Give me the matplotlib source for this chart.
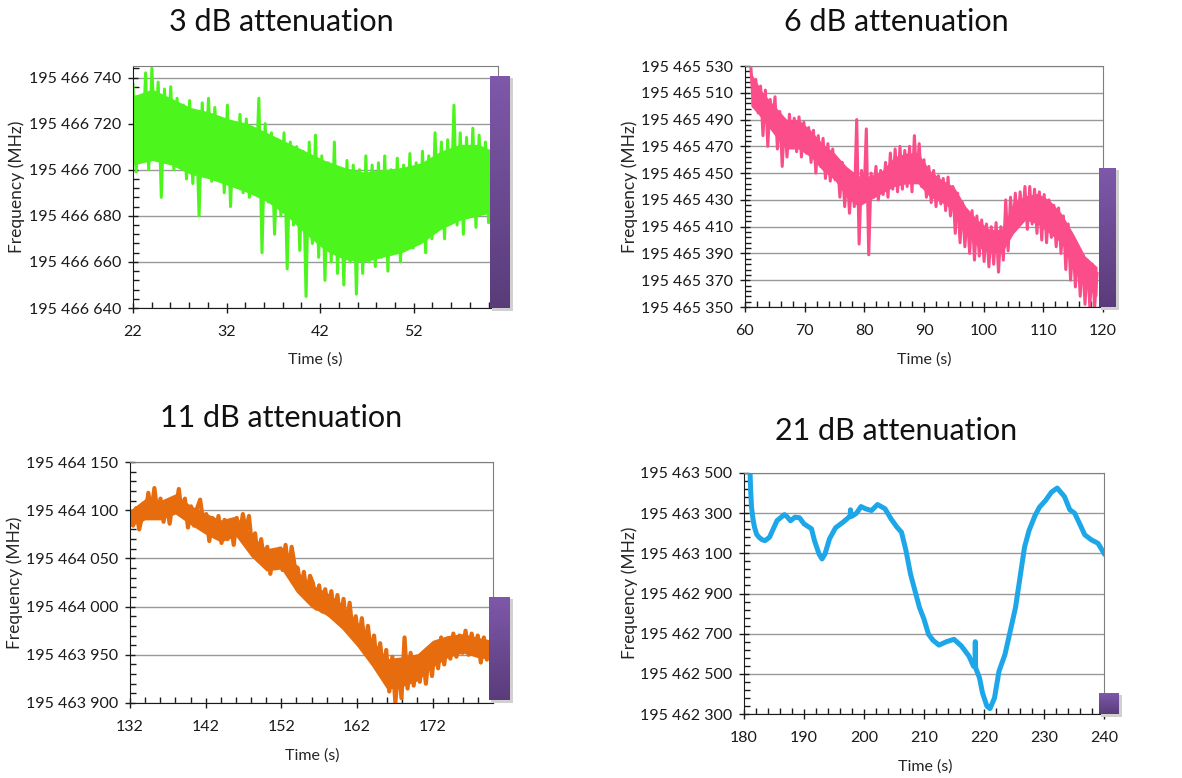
import numpy as np
import matplotlib
matplotlib.use("Agg")
import matplotlib.pyplot as plt
from matplotlib.ticker import MultipleLocator, FuncFormatter
from matplotlib.colors import LinearSegmentedColormap

plt.rcParams["font.family"] = ["Lato", "DejaVu Sans"]

W, H = 1182, 778

# 3 dB attenuation: readings in MHz above 195 466 000, evenly sampled 22 s .. 61 s
base_3db = 195466000
span_3db = (22, 61)
freq_3db = [
    737, 699, 730, 705, 742, 700,
    744, 712, 738, 688, 735, 708,
    736, 700, 731, 707, 728, 696,
    730, 694, 725, 680, 729, 700,
    731, 695, 727, 698, 722, 690,
    728, 684, 720, 694, 724, 690,
    722, 688, 718, 693, 731, 664,
    720, 686, 716, 672, 713, 680,
    716, 657, 712, 676, 710, 665,
    708, 645, 712, 668, 715, 662,
    706, 652, 703, 660, 712, 655,
    700, 650, 704, 660, 702, 646,
    700, 655, 706, 660, 702, 658,
    703, 662, 706, 656, 700, 664,
    705, 660, 702, 667, 707, 666,
    703, 668, 708, 664, 706, 670,
    716, 675, 712, 670, 713, 678,
    728, 676, 716, 672, 714, 680,
    718, 675, 715, 682, 712, 677,
    713, 685, 700,
]
# dense core of the noise band (about every 2 s)
core_hi_3db = [732, 735, 731, 727, 725, 722, 720, 716, 712, 708,
               704, 701, 699, 700, 701, 703, 708, 711, 711, 707]
core_lo_3db = [702, 704, 702, 698, 696, 693, 690, 686, 680, 672,
               665, 661, 660, 662, 664, 668, 674, 678, 680, 682]

# 6 dB attenuation: readings in MHz above 195 465 000, evenly sampled 61 s .. 119 s
base_6db = 195465000
span_6db = (61, 119)
freq_6db = [
    528, 500, 520, 495, 515,
    478, 512, 470, 505, 485,
    507, 468, 496, 455, 490,
    462, 494, 470, 491, 466,
    492, 462, 488, 465, 484,
    458, 482, 450, 478, 455,
    476, 446, 472, 444, 468,
    445, 460, 432, 458, 425,
    452, 420, 448, 425, 490,
    397, 452, 430, 483, 389,
    450, 432, 455, 430, 452,
    434, 458, 432, 465, 438,
    468, 436, 470, 438, 467,
    440, 470, 436, 478, 445,
    472, 440, 460, 432, 455,
    428, 452, 425, 448, 427,
    446, 422, 447, 418, 440,
    405, 435, 398, 428, 395,
    420, 390, 422, 385, 418,
    388, 415, 384, 412, 380,
    410, 382, 413, 376, 410,
    385, 430, 392, 432, 408,
    435, 410, 436, 414, 440,
    408, 440, 412, 438, 405,
    436, 400, 434, 398, 430,
    402, 426, 395, 424, 390,
    418, 378, 412, 370, 398,
    365, 395, 358, 388, 352,
    385, 350, 382, 350, 375,
]
core_hi_6db = [525, 510, 500, 490, 490, 482, 472, 465, 455, 448,
               448, 452, 462, 465, 465, 452, 445, 440, 425, 415,
               408, 408, 428, 433, 435, 430, 420, 405, 388, 380]
core_lo_6db = [500, 490, 478, 468, 468, 462, 452, 445, 432, 425,
               430, 435, 440, 442, 442, 432, 428, 422, 405, 395,
               390, 390, 405, 415, 412, 405, 398, 380, 365, 358]

# 11 dB attenuation: readings in MHz above 195 463 000, evenly sampled 132 s .. 180 s
base_11db = 195463000
span_11db = (132, 180)
freq_11db = [
    1098, 1084, 1102, 1080, 1094,
    1092, 1118, 1098, 1123, 1096,
    1112, 1088, 1108, 1086, 1110,
    1100, 1122, 1096, 1112, 1082,
    1104, 1084, 1102, 1111, 1088,
    1096, 1068, 1092, 1072, 1094,
    1066, 1090, 1070, 1088, 1064,
    1092, 1075, 1096, 1078, 1094,
    1062, 1076, 1048, 1070, 1044,
    1062, 1034, 1056, 1040, 1060,
    1038, 1064, 1036, 1062, 1042,
    1040, 1014, 1036, 1010, 1032,
    1024, 998, 1022, 995, 1018,
    992, 1016, 990, 1012, 984,
    1008, 976, 1004, 972, 990,
    962, 988, 958, 980, 950,
    970, 938, 962, 932, 955,
    912, 948, 900, 942, 905,
    968, 915, 952, 918, 948,
    922, 950, 920, 955, 928,
    962, 936, 968, 940, 965,
    946, 972, 948, 970, 952,
    975, 950, 972, 955, 970,
    942, 968, 945, 962, 948,
]
core_hi_11db = [1100, 1112, 1110, 1117, 1105, 1097, 1090, 1094, 1075, 1060,
                1063, 1038, 1023, 1015, 1003, 985, 966, 946, 948, 951,
                965, 970, 972, 968, 965]
core_lo_11db = [1083, 1090, 1090, 1096, 1085, 1075, 1067, 1073, 1052, 1037,
                1039, 1015, 999, 991, 977, 959, 938, 914, 917, 923,
                937, 947, 952, 947, 945]

# 21 dB attenuation: readings in MHz above 195 462 000
base_21db = 195462000
time_21db = [
    181.0, 181.1, 181.25, 181.5, 181.75, 182.1, 182.5, 183.0, 183.5, 184.25,
    184.75, 185.5, 186.2, 186.75, 187.25, 187.75, 188.5, 189.25, 190.0, 191.25,
    191.75, 192.5, 193.0, 193.5, 194.25, 195.25, 196.5, 197.5, 197.7, 197.75,
    197.8, 198.0, 198.75, 199.5, 200.25, 201.25, 202.25, 203.5, 204.5, 205.5,
    206.25, 207.0, 207.75, 208.5, 209.25, 210.0, 210.75, 211.5, 212.5, 213.75,
    215.0, 216.25, 217.5, 218.25, 218.5, 218.55, 218.6, 219.25, 219.75, 220.5,
    221.0, 221.75, 222.5, 223.5, 224.5, 225.25, 226.0, 226.75, 227.5, 228.5,
    229.25, 230.25, 231.25, 232.2, 233.4, 234.3, 235.1, 235.9, 236.8, 237.9,
    239.0, 240.0,
]
freq_21db = [
    1510, 1420, 1330, 1270, 1230, 1195, 1180, 1168, 1163, 1180,
    1213, 1263, 1280, 1293, 1280, 1262, 1280, 1277, 1247, 1222,
    1163, 1097, 1072, 1097, 1172, 1227, 1255, 1280, 1285, 1317,
    1285, 1285, 1300, 1333, 1322, 1313, 1343, 1322, 1272, 1230,
    1205, 1113, 997, 913, 830, 772, 697, 667, 643, 660,
    672, 638, 588, 538, 540, 660, 530, 480, 405, 338,
    327, 380, 513, 597, 730, 830, 980, 1130, 1213, 1288,
    1330, 1363, 1405, 1425, 1383, 1317, 1300, 1250, 1192, 1167,
    1150, 1100,
]


def px_box(left, top, right, bottom):
    return [left / W, 1 - bottom / H, (right - left) / W, (bottom - top) / H]


def space_thousands(v, _):
    return f"{v:,.0f}".replace(",", " ")


def style_axes(ax, xlim, xmajor, ylim, ymajor, yminor):
    ax.set_xlim(*xlim)
    ax.set_ylim(*ylim)
    ax.xaxis.set_major_locator(MultipleLocator(xmajor, offset=xlim[0] % xmajor))
    ax.xaxis.set_minor_locator(MultipleLocator(2))
    ax.yaxis.set_major_locator(MultipleLocator(ymajor, offset=ylim[0] % ymajor))
    ax.yaxis.set_minor_locator(MultipleLocator(yminor, offset=ylim[0] % yminor))
    ax.yaxis.set_major_formatter(FuncFormatter(space_thousands))
    ax.grid(axis="y", color="#999999", lw=1.0)
    ax.set_axisbelow(True)
    for side in ("top", "right"):
        ax.spines[side].set_color("#7f7f7f")
    for side in ("left", "bottom"):
        ax.spines[side].set_color("#1a1a1a")
    ax.tick_params(which="major", direction="inout", length=7, width=1,
                   labelsize=11.5, colors="#1a1a1a", pad=5)
    ax.tick_params(axis="x", which="major", pad=9)
    ax.tick_params(which="minor", direction="in", length=4, width=1,
                   colors="#1a1a1a")
    ax.tick_params(axis="y", which="both", left=True, right=False)
    ax.tick_params(axis="x", which="both", bottom=True, top=False)


def purple_bar(fig, box):
    shadow = fig.add_axes(px_box(box[0] + 2, box[1] + 2, box[2] + 3, box[3] + 3))
    shadow.set_facecolor("#d0d0d0")
    for s in shadow.spines.values():
        s.set_visible(False)
    shadow.set_xticks([])
    shadow.set_yticks([])
    bar = fig.add_axes(px_box(*box))
    cmap = LinearSegmentedColormap.from_list("pur", ["#7e58aa", "#5a3c7a"])
    bar.imshow(np.linspace(0, 1, 100).reshape(-1, 1), aspect="auto", cmap=cmap)
    bar.axis("off")


fig = plt.figure(figsize=(W / 100, H / 100), dpi=100)

panels = [
    dict(box=(133, 66, 498, 308), span=span_3db, freq=freq_3db, base=base_3db,
         core=(core_lo_3db, core_hi_3db),
         color="#4cf51c", lw=2.2, xlim=(22, 61), xmajor=10,
         ylim=(base_3db + 640, base_3db + 745), ymajor=20, yminor=4,
         title="3 dB attenuation", title_xy=(281, 22),
         ylab_xy=(17, 187), xlab_xy=(315, 360), bar=(490, 76, 510, 308)),
    dict(box=(745, 66, 1103, 307), span=span_6db, freq=freq_6db, base=base_6db,
         core=(core_lo_6db, core_hi_6db),
         color="#fb4d89", lw=2.2, xlim=(60, 120), xmajor=10,
         ylim=(base_6db + 350, base_6db + 530), ymajor=20, yminor=4,
         title="6 dB attenuation", title_xy=(896, 22),
         ylab_xy=(630, 187), xlab_xy=(924, 360), bar=(1099, 168, 1116, 307)),
    dict(box=(130, 462, 493, 703), span=span_11db, freq=freq_11db, base=base_11db,
         core=(core_lo_11db, core_hi_11db),
         color="#e66c0e", lw=3.0, xlim=(132, 180), xmajor=10,
         ylim=(base_11db + 900, base_11db + 1150), ymajor=50, yminor=10,
         title="11 dB attenuation", title_xy=(281, 418),
         ylab_xy=(15, 583), xlab_xy=(312, 756), bar=(489, 597, 510, 700)),
    dict(box=(744, 473, 1104, 714), span=None, freq=freq_21db, base=base_21db,
         core=None,
         color="#1da6e8", lw=3.6, xlim=(180, 240), xmajor=10,
         ylim=(base_21db + 300, base_21db + 1500), ymajor=200, yminor=40,
         title="21 dB attenuation", title_xy=(896, 431),
         ylab_xy=(630, 593), xlab_xy=(925, 767), bar=(1099, 693, 1119, 714)),
]

for p in panels:
    ax = fig.add_axes(px_box(*p["box"]))
    values = p["base"] + np.array(p["freq"], dtype=float)
    if p["span"] is None:
        times = np.array(time_21db)
    else:
        times = np.linspace(p["span"][0], p["span"][1], len(values))
    if p["core"] is not None:
        lo, hi = p["core"]
        tc = np.linspace(p["span"][0], p["span"][1], len(lo))
        ax.fill_between(tc, p["base"] + np.array(lo), p["base"] + np.array(hi),
                        color=p["color"], lw=0)
    ax.plot(times, values, color=p["color"], lw=p["lw"], solid_joinstyle="round")
    style_axes(ax, p["xlim"], p["xmajor"], p["ylim"], p["ymajor"], p["yminor"])

    tx, ty = p["title_xy"]
    fig.text(tx / W, 1 - ty / H, p["title"], ha="center", va="center",
             fontsize=22, color="#111111")
    lx, ly = p["ylab_xy"]
    fig.text(lx / W, 1 - ly / H, "Frequency (MHz)", ha="center", va="center",
             rotation=90, fontsize=12.5, color="#262626")
    lx, ly = p["xlab_xy"]
    fig.text(lx / W, 1 - ly / H, "Time (s)", ha="center", va="center",
             fontsize=11.5, color="#262626")

for p in panels:
    purple_bar(fig, p["bar"])

fig.savefig("out.png", dpi=100)
